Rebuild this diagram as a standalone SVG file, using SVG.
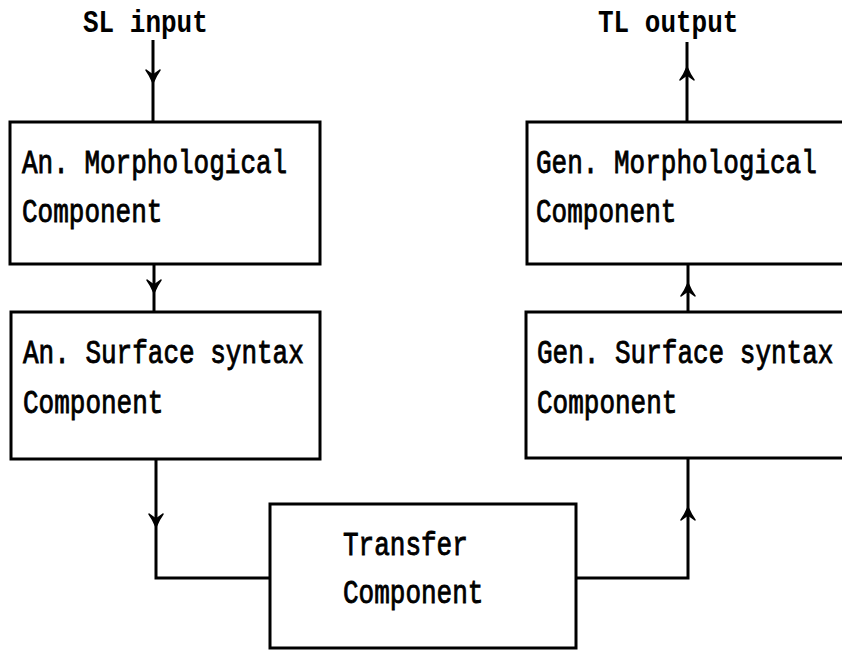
<svg xmlns="http://www.w3.org/2000/svg" width="842" height="651" viewBox="0 0 842 651">
  <style>
    .box { fill: #ffffff; stroke: #000000; stroke-width: 3; }
    .wire { fill: none; stroke: #000000; stroke-width: 3; }
    .lbl { font-family: "Liberation Mono", "DejaVu Sans Mono", monospace; font-size: 26px; fill: #000000; stroke: #000000; stroke-width: 0.7px; }
    .ttl { font-family: "Liberation Mono", "DejaVu Sans Mono", monospace; font-size: 26px; font-weight: bold; fill: #000000; }
  </style>
  <defs>
    <!-- barbed arrowhead, tip at origin, pointing down -->
    <path id="ah" d="M0,0 C-2,-5 -4,-9 -7,-13 L0,-8 L7,-13 C4,-9 2,-5 0,0 Z" fill="#000000" stroke="#000000" stroke-width="1.5" stroke-linejoin="round"/>
  </defs>
  <rect width="842" height="651" fill="#ffffff"/>

  <text class="ttl" transform="translate(83,32) scale(1,1.2)">SL input</text>
  <text class="ttl" transform="translate(598,32) scale(1,1.2)">TL output</text>

  <g id="connectors">
    <line class="wire" x1="153" y1="40" x2="153" y2="122"/>
    <use href="#ah" x="153" y="83"/>
    <line class="wire" x1="154" y1="264" x2="154" y2="312"/>
    <use href="#ah" x="154" y="293"/>
    <polyline class="wire" points="156,459 156,578 270,578"/>
    <use href="#ah" x="156" y="527"/>
    <polyline class="wire" points="576,578 688,578 688,458"/>
    <use href="#ah" transform="translate(688,507) rotate(180)"/>
    <line class="wire" x1="688" y1="312" x2="688" y2="264"/>
    <use href="#ah" transform="translate(688,283) rotate(180)"/>
    <line class="wire" x1="687" y1="122" x2="687" y2="42"/>
    <use href="#ah" transform="translate(687,67) rotate(180)"/>
  </g>

  <g id="an-morph">
    <rect class="box" x="10" y="122" width="310" height="142"/>
    <text class="lbl" transform="translate(22,173) scale(1,1.25)">An. Morphological</text>
    <text class="lbl" transform="translate(22,222) scale(1,1.25)">Component</text>
  </g>

  <g id="an-syntax">
    <rect class="box" x="11" y="312" width="309" height="147"/>
    <text class="lbl" transform="translate(23,363) scale(1,1.25)">An. Surface syntax</text>
    <text class="lbl" transform="translate(23,413) scale(1,1.25)">Component</text>
  </g>

  <g id="gen-morph">
    <rect class="box" x="527" y="122" width="330" height="142"/>
    <text class="lbl" transform="translate(536,173) scale(1,1.25)">Gen. Morphological</text>
    <text class="lbl" transform="translate(536,222) scale(1,1.25)">Component</text>
  </g>

  <g id="gen-syntax">
    <rect class="box" x="526" y="312" width="330" height="146"/>
    <text class="lbl" transform="translate(537,363) scale(1,1.25)">Gen. Surface syntax</text>
    <text class="lbl" transform="translate(537,413) scale(1,1.25)">Component</text>
  </g>

  <g id="transfer">
    <rect class="box" x="270" y="504" width="306" height="144"/>
    <text class="lbl" transform="translate(343,555) scale(1,1.25)">Transfer</text>
    <text class="lbl" transform="translate(343,603) scale(1,1.25)">Component</text>
  </g>
</svg>
